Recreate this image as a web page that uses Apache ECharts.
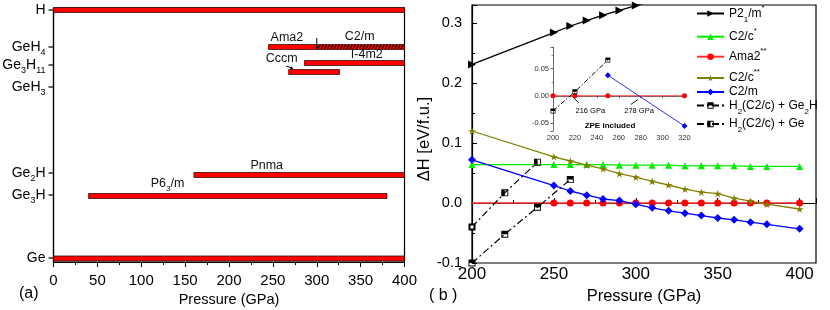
<!DOCTYPE html>
<html><head><meta charset="utf-8">
<script src="https://cdn.jsdelivr.net/npm/echarts@6/dist/echarts.min.js"></script>
<style>html,body{margin:0;padding:0;background:#fff}#c{width:830px;height:310px}</style>
</head><body><div id="c"></div>
<script>
const F = '"Liberation Sans", Arial, sans-serif';
// ---------- panel (a) data ----------
const compoundLabels = ['H','GeH{s|4}','Ge{s|3}H{s|11}','GeH{s|3}','Ge{s|2}H','Ge{s|3}H','Ge'];
const compoundRow    = [252, 215, 197, 175, 89, 67, 4];
const phaseFrom    = [0,   245, 300, 286, 268, 160, 40,  0];
const phaseTo      = [400, 300, 400, 400, 326, 400, 380, 400];
const phaseRow     = [252, 215, 215, 199, 190, 87,  66,  3.5];
const phaseHatched = [0,   0,   1,   0,   0,   0,   0,   0];
const phaseText    = ['Ama2','C2/m','I-4m2','Cccm','Pnma','P6{s|3}/m'];
const phaseTextP   = [266, 349, 357, 260, 243, 130];
const phaseTextRow = [224, 225, 207, 203, 96, 78];
const leftPointerFromP = [300, 265];
const leftPointerFromR = [224, 196];
const leftPointerToP   = [300, 273];
const leftPointerToR   = [213, 193.5];

// ---------- panel (b) data ----------
const seriesNames = ['P2_1/m*','C2/c*','Ama2**','C2/c**','C2/m','H2(C2/c) + Ge2H','H2(C2/c) + Ge'];
const seriesRich  = ['P2{b|1}/m{p|*}','C2/c{p|*}','Ama2{p|**}','C2/c{p|**}','C2/m','H{b|2}(C2/c) + Ge{b|2}H','H{b|2}(C2/c) + Ge'];
const pP21m = [200, 250, 260, 270, 280, 290, 300, 310];
const hP21m = [0.231, 0.284, 0.295, 0.304, 0.313, 0.321, 0.329, 0.337];
const pMain = [200, 250, 260, 270, 280, 290, 300, 310, 320, 330, 340, 350, 360, 370, 380, 400];
const hC2c1 = [0.064, 0.064, 0.064, 0.064, 0.064, 0.063, 0.063, 0.063, 0.063, 0.062, 0.062, 0.062, 0.062, 0.061, 0.061, 0.061];
const hAma2 = [0, 0, 0, 0, 0, 0, 0, 0, 0, 0, 0, 0, 0, 0, 0, 0];
const hC2c2 = [0.120, 0.077, 0.070, 0.063, 0.057, 0.049, 0.043, 0.036, 0.030, 0.023, 0.018, 0.0155, 0.008, 0.003, -0.002, -0.010];
const hC2m  = [0.072, 0.029, 0.020, 0.013, 0.0067, 0.004, -0.002, -0.008, -0.013, -0.017, -0.021, -0.025, -0.028, -0.032, -0.0355, -0.043];
const pGe2H = [200, 220, 240, 260];
const hGe2H = [-0.1, -0.052, -0.007, 0.039];
const pGe   = [200, 220, 240];
const hGe   = [-0.040, 0.017, 0.068];
const legendCenterY = [14.5, 37.7, 57.7, 79, 93, 106.5, 125];

// ---------- inset data ----------
const pInGe2H = [200, 220, 250];
const hInGe2H = [-0.028, 0.0075, 0.066];
const pInAma2 = [200, 220, 250, 320];
const hInAma2 = [0, 0, 0, 0];
const pInC2m  = [250, 320];
const hInC2m  = [0.038, -0.056];
const insetNoteText = ['216 GPa', '278 GPa', 'ZPE included'];
const insetNoteP = [234, 278.5, 252];
const insetNoteH = [-0.028, -0.028, -0.056];
const insetPtrFromP = [218, 277.5];
const insetPtrFromH = [-0.002, -0.007];
const insetPtrToP = [223.5, 271];
const insetPtrToH = [-0.013, -0.016];

const zip = (a, b) => a.map((v, i) => [v, b[i]]);
const SYM_RTRI = 'path://M0,0L10,5L0,10Z';
const SYM_STAR = 'path://M50,0L61,35L98,35L68,57L79,91L50,70L21,91L32,57L2,35L39,35Z';
const SYM_TOPHALF = 'path://M0,0H10V10H0Z M1.3,5V8.7H8.7V5Z';
const SYM_LEFTHALF = 'path://M0,0H10V10H0Z M5,1.3V8.7H8.7V1.3Z';

const richBase = {
  s: {fontSize: 9, lineHeight: 9, verticalAlign: 'bottom', fontFamily: F},
  b: {fontSize: 8, lineHeight: 8, verticalAlign: 'bottom', fontFamily: F},
  p: {fontSize: 8, lineHeight: 8, verticalAlign: 'top', fontFamily: F}
};

function lineSeries(name, data, color, symbol, size, extra) {
  return Object.assign({
    type: 'line', name, data, xAxisIndex: 1, yAxisIndex: 1,
    symbol, symbolSize: size, symbolKeepAspect: true,
    lineStyle: {color, width: 1.3}, itemStyle: {color},
    clip: true, silent: true
  }, extra || {});
}
const dashDot = [7, 3, 2, 3];

const series = [];
// bars
series.push({
  type: 'custom', xAxisIndex: 0, yAxisIndex: 0, silent: true,
  data: phaseFrom.map((f, i) => [f, phaseTo[i], phaseRow[i], phaseHatched[i]]),
  encode: {x: [0, 1], y: 2},
  renderItem(params, api) {
    const a = api.coord([api.value(0), api.value(2)]);
    const b = api.coord([api.value(1), api.value(2)]);
    const h = 5;
    const kids = [{type: 'rect', shape: {x: a[0], y: a[1] - h / 2, width: b[0] - a[0], height: h},
      style: {fill: '#ff0000', stroke: '#3a0a0a', lineWidth: 0.8}}];
    if (api.value(3)) {
      for (let x = a[0] + 1; x < b[0] - 2.5; x += 3.2) {
        kids.push({type: 'line', shape: {x1: x, y1: a[1] + h / 2 - 0.6, x2: x + 2.2, y2: a[1] - h / 2 + 0.6},
          style: {stroke: '#000', lineWidth: 1.1}});
      }
    }
    return {type: 'group', children: kids};
  }
});
// compound tick labels
series.push({
  type: 'custom', xAxisIndex: 0, yAxisIndex: 0, silent: true,
  data: compoundRow.map((r, i) => [0, r, i]),
  encode: {x: 0, y: 1},
  renderItem(params, api) {
    const p = api.coord([0, api.value(1)]);
    const i = api.value(2);
    return {type: 'group', children: [
      {type: 'line', shape: {x1: p[0] - 5, y1: p[1], x2: p[0], y2: p[1]}, style: {stroke: '#000', lineWidth: 1.2}},
      {type: 'text', style: {x: p[0] - 8, y: p[1], text: compoundLabels[i], rich: richBase,
        fontSize: 14, lineHeight: 20, fontFamily: F, fill: '#000',
        align: 'right', verticalAlign: 'middle', textAlign: 'right', textVerticalAlign: 'middle'}}
    ]};
  }
});
// phase labels
series.push({
  type: 'custom', xAxisIndex: 0, yAxisIndex: 0, silent: true,
  data: phaseTextP.map((p, i) => [p, phaseTextRow[i], i]),
  encode: {x: 0, y: 1},
  renderItem(params, api) {
    const p = api.coord([api.value(0), api.value(1)]);
    return {type: 'text', style: {x: p[0], y: p[1], text: phaseText[api.value(2)],
      rich: {s: {fontSize: 8, lineHeight: 8, verticalAlign: 'bottom', fontFamily: F}},
      fontSize: 12.5, lineHeight: 18, fontFamily: F, fill: '#111',
      align: 'center', verticalAlign: 'middle', textAlign: 'center', textVerticalAlign: 'middle'}};
  }
});
// left pointers
series.push({
  type: 'custom', xAxisIndex: 0, yAxisIndex: 0, silent: true,
  data: leftPointerFromP.map((p, i) => [p, leftPointerFromR[i], leftPointerToP[i], leftPointerToR[i]]),
  encode: {x: [0, 2], y: [1, 3]},
  renderItem(params, api) {
    const a = api.coord([api.value(0), api.value(1)]);
    const b = api.coord([api.value(2), api.value(3)]);
    const ang = Math.atan2(b[1] - a[1], b[0] - a[0]);
    const L = 3;
    return {type: 'group', children: [
      {type: 'line', shape: {x1: a[0], y1: a[1], x2: b[0], y2: b[1]}, style: {stroke: '#000', lineWidth: 1}},
      {type: 'polygon', shape: {points: [[b[0], b[1]],
        [b[0] - L * Math.cos(ang - 0.5), b[1] - L * Math.sin(ang - 0.5)],
        [b[0] - L * Math.cos(ang + 0.5), b[1] - L * Math.sin(ang + 0.5)]]}, style: {fill: '#000'}}
    ]};
  }
});
// right main series
series.push(lineSeries(seriesNames[0], zip(pP21m, hP21m), '#000', SYM_RTRI, 8));
series.push(lineSeries(seriesNames[1], zip(pMain, hC2c1), '#00ee00', 'triangle', 7));
series.push(lineSeries(seriesNames[2], zip(pMain, hAma2).map((d, i) => i === 0 ? {value: d, symbol: 'none'} : d), '#ff0000', 'circle', 7,
  {lineStyle: {color: '#ff3030', width: 1.3}}));
series.push(lineSeries(seriesNames[3], zip(pMain, hC2c2), '#808000', SYM_STAR, 8));
series.push(lineSeries(seriesNames[4], zip(pMain, hC2m), '#0000ff', 'diamond', 8));
series.push(lineSeries(seriesNames[5], zip(pGe2H, hGe2H), '#000', SYM_TOPHALF, 7,
  {lineStyle: {color: '#000', width: 1.2, type: dashDot}, clip: false}));
series.push(lineSeries(seriesNames[6], zip(pGe, hGe).map((d, i) => i === 0 ? {value: d, symbol: 'emptyRect', symbolSize: 5} : d), '#000', SYM_LEFTHALF, 7,
  {lineStyle: {color: '#000', width: 1.2, type: dashDot}}));
// inset series
function insetSeries(data, color, symbol, size, extra) {
  return Object.assign({type: 'line', data, xAxisIndex: 2, yAxisIndex: 2, symbol, symbolSize: size,
    symbolKeepAspect: true, lineStyle: {color, width: 1}, itemStyle: {color}, silent: true}, extra || {});
}
series.push(insetSeries(zip(pInAma2, hInAma2), '#ff0000', 'circle', 5, {lineStyle: {color: '#ff4040', width: 1}}));
series.push(insetSeries(zip(pInC2m, hInC2m), '#0000ff', 'diamond', 6, {lineStyle: {color: '#3030ff', width: 1}}));
series.push(insetSeries(zip(pInGe2H, hInGe2H), '#000', SYM_TOPHALF, 5, {lineStyle: {color: '#000', width: 1, type: [5, 2, 1.5, 2]}}));
// inset notes
series.push({
  type: 'custom', xAxisIndex: 2, yAxisIndex: 2, silent: true,
  data: insetNoteP.map((p, i) => [p, insetNoteH[i], i]),
  encode: {x: 0, y: 1},
  renderItem(params, api) {
    const i = api.value(2);
    const p = api.coord([api.value(0), api.value(1)]);
    const kids = [{type: 'text', style: {x: p[0], y: p[1], text: insetNoteText[i],
      fontSize: i === 2 ? 8 : 7.5, fontWeight: i === 2 ? 'bold' : 'normal', fontFamily: F, fill: '#000',
      align: 'center', verticalAlign: 'middle', textAlign: 'center', textVerticalAlign: 'middle'}}];
    if (i < insetPtrFromP.length) {
      const a = api.coord([insetPtrFromP[i], insetPtrFromH[i]]);
      const b = api.coord([insetPtrToP[i], insetPtrToH[i]]);
      kids.push({type: 'line', shape: {x1: a[0], y1: a[1], x2: b[0], y2: b[1]}, style: {stroke: '#000', lineWidth: 0.9}});
    }
    return {type: 'group', children: kids};
  }
});

const axisBlack = {color: '#000', width: 1.2};
const option = {
  animation: false,
  backgroundColor: '#fff',
  title: [
    {text: '(a)', left: 19, top: 286, padding: 0, textStyle: {fontSize: 16, fontWeight: 'normal', fontFamily: F, color: '#000'}},
    {text: '( b )', left: 429, top: 288, padding: 0, textStyle: {fontSize: 16, fontWeight: 'normal', fontFamily: F, color: '#000'}}
  ],
  legend: seriesNames.map((n, i) => ({
    data: [n], left: 696, top: legendCenterY[i] - 11, padding: 0,
    itemWidth: 27, itemHeight: 8, itemGap: 4, selectedMode: false,
    formatter: () => seriesRich[i],
    textStyle: {fontSize: 12, lineHeight: 20, fontFamily: F, color: '#000', rich: richBase}
  })),
  grid: [
    {left: 53.5, right: 425.5, top: 8, bottom: 48, show: true, borderColor: '#000', borderWidth: 1.2, outerBoundsMode: 'none', containLabel: false},
    {left: 472, right: 14, top: 5, bottom: 47, show: true, borderColor: '#000', borderWidth: 1.2, outerBoundsMode: 'none', containLabel: false},
    {left: 553, width: 131.5, top: 47, height: 84, show: false, outerBoundsMode: 'none', containLabel: false}
  ],
  xAxis: [
    {gridIndex: 0, type: 'value', min: 0, max: 400, interval: 50,
      axisLine: {lineStyle: axisBlack}, axisTick: {inside: false, length: 5, lineStyle: {color: '#000'}},
      minorTick: {show: true, splitNumber: 2, length: 3, lineStyle: {color: '#000'}},
      axisLabel: {fontSize: 15, color: '#000', margin: 11, fontFamily: F}, splitLine: {show: false},
      name: 'Pressure (GPa)', nameLocation: 'middle', nameGap: 28,
      nameTextStyle: {fontSize: 14.5, color: '#000', fontFamily: F}},
    {gridIndex: 1, type: 'value', min: 200, max: 410, interval: 50,
      axisLine: {lineStyle: axisBlack}, axisTick: {inside: true, length: 5, lineStyle: {color: '#000'}},
      minorTick: {show: true, splitNumber: 2, length: 3, lineStyle: {color: '#000'}},
      axisLabel: {fontSize: 17, color: '#000', margin: 3, fontFamily: F, showMaxLabel: false}, splitLine: {show: false},
      name: 'Pressure (GPa)', nameLocation: 'middle', nameGap: 24,
      nameTextStyle: {fontSize: 16.5, color: '#000', fontFamily: F}},
    {gridIndex: 2, type: 'value', min: 200, max: 320, interval: 20,
      axisLine: {lineStyle: {color: '#444', width: 0.8}}, axisTick: {inside: false, length: 2.5, lineStyle: {color: '#444', width: 0.8}},
      minorTick: {show: true, splitNumber: 2, length: 1.5, lineStyle: {color: '#444', width: 0.6}},
      axisLabel: {fontSize: 7.5, color: '#333', margin: 3, fontFamily: F}, splitLine: {show: false}}
  ],
  yAxis: [
    {gridIndex: 0, type: 'value', min: 0, max: 254,
      axisLine: {show: true, lineStyle: axisBlack}, axisTick: {show: false}, axisLabel: {show: false}, splitLine: {show: false}},
    {gridIndex: 1, type: 'value', min: -0.1, max: 0.33, interval: 0.1,
      axisLine: {show: true, lineStyle: axisBlack}, axisTick: {inside: true, length: 5, lineStyle: {color: '#000'}},
      minorTick: {show: true, splitNumber: 2, length: 3, lineStyle: {color: '#000'}},
      axisLabel: {fontSize: 14.5, color: '#000', margin: 10, fontFamily: F, showMaxLabel: false,
        formatter: v => v.toFixed(1)}, splitLine: {show: false},
      name: 'ΔH [eV/f.u.]', nameLocation: 'middle', nameGap: 36, nameRotate: 90,
      nameTextStyle: {fontSize: 16.5, color: '#000', fontFamily: F, padding: [0, 10, 0, 0]}},
    {gridIndex: 2, type: 'value', min: -0.065, max: 0.09, splitNumber: 3,
      axisLine: {show: true, lineStyle: {color: '#444', width: 0.8}},
      axisTick: {inside: false, length: 2.5, lineStyle: {color: '#444', width: 0.8}},
      minorTick: {show: true, splitNumber: 2, length: 1.5, lineStyle: {color: '#444', width: 0.6}},
      axisLabel: {fontSize: 7.5, color: '#333', margin: 4, fontFamily: F, showMinLabel: false, showMaxLabel: false,
        formatter: v => Math.abs(v / 0.05 - Math.round(v / 0.05)) < 1e-6 ? v.toFixed(2) : ''},
      splitLine: {show: false}}
  ],
  series
};
const chart = echarts.init(document.getElementById('c'), null, {renderer: 'canvas'});
chart.setOption(option);
</script></body></html>
